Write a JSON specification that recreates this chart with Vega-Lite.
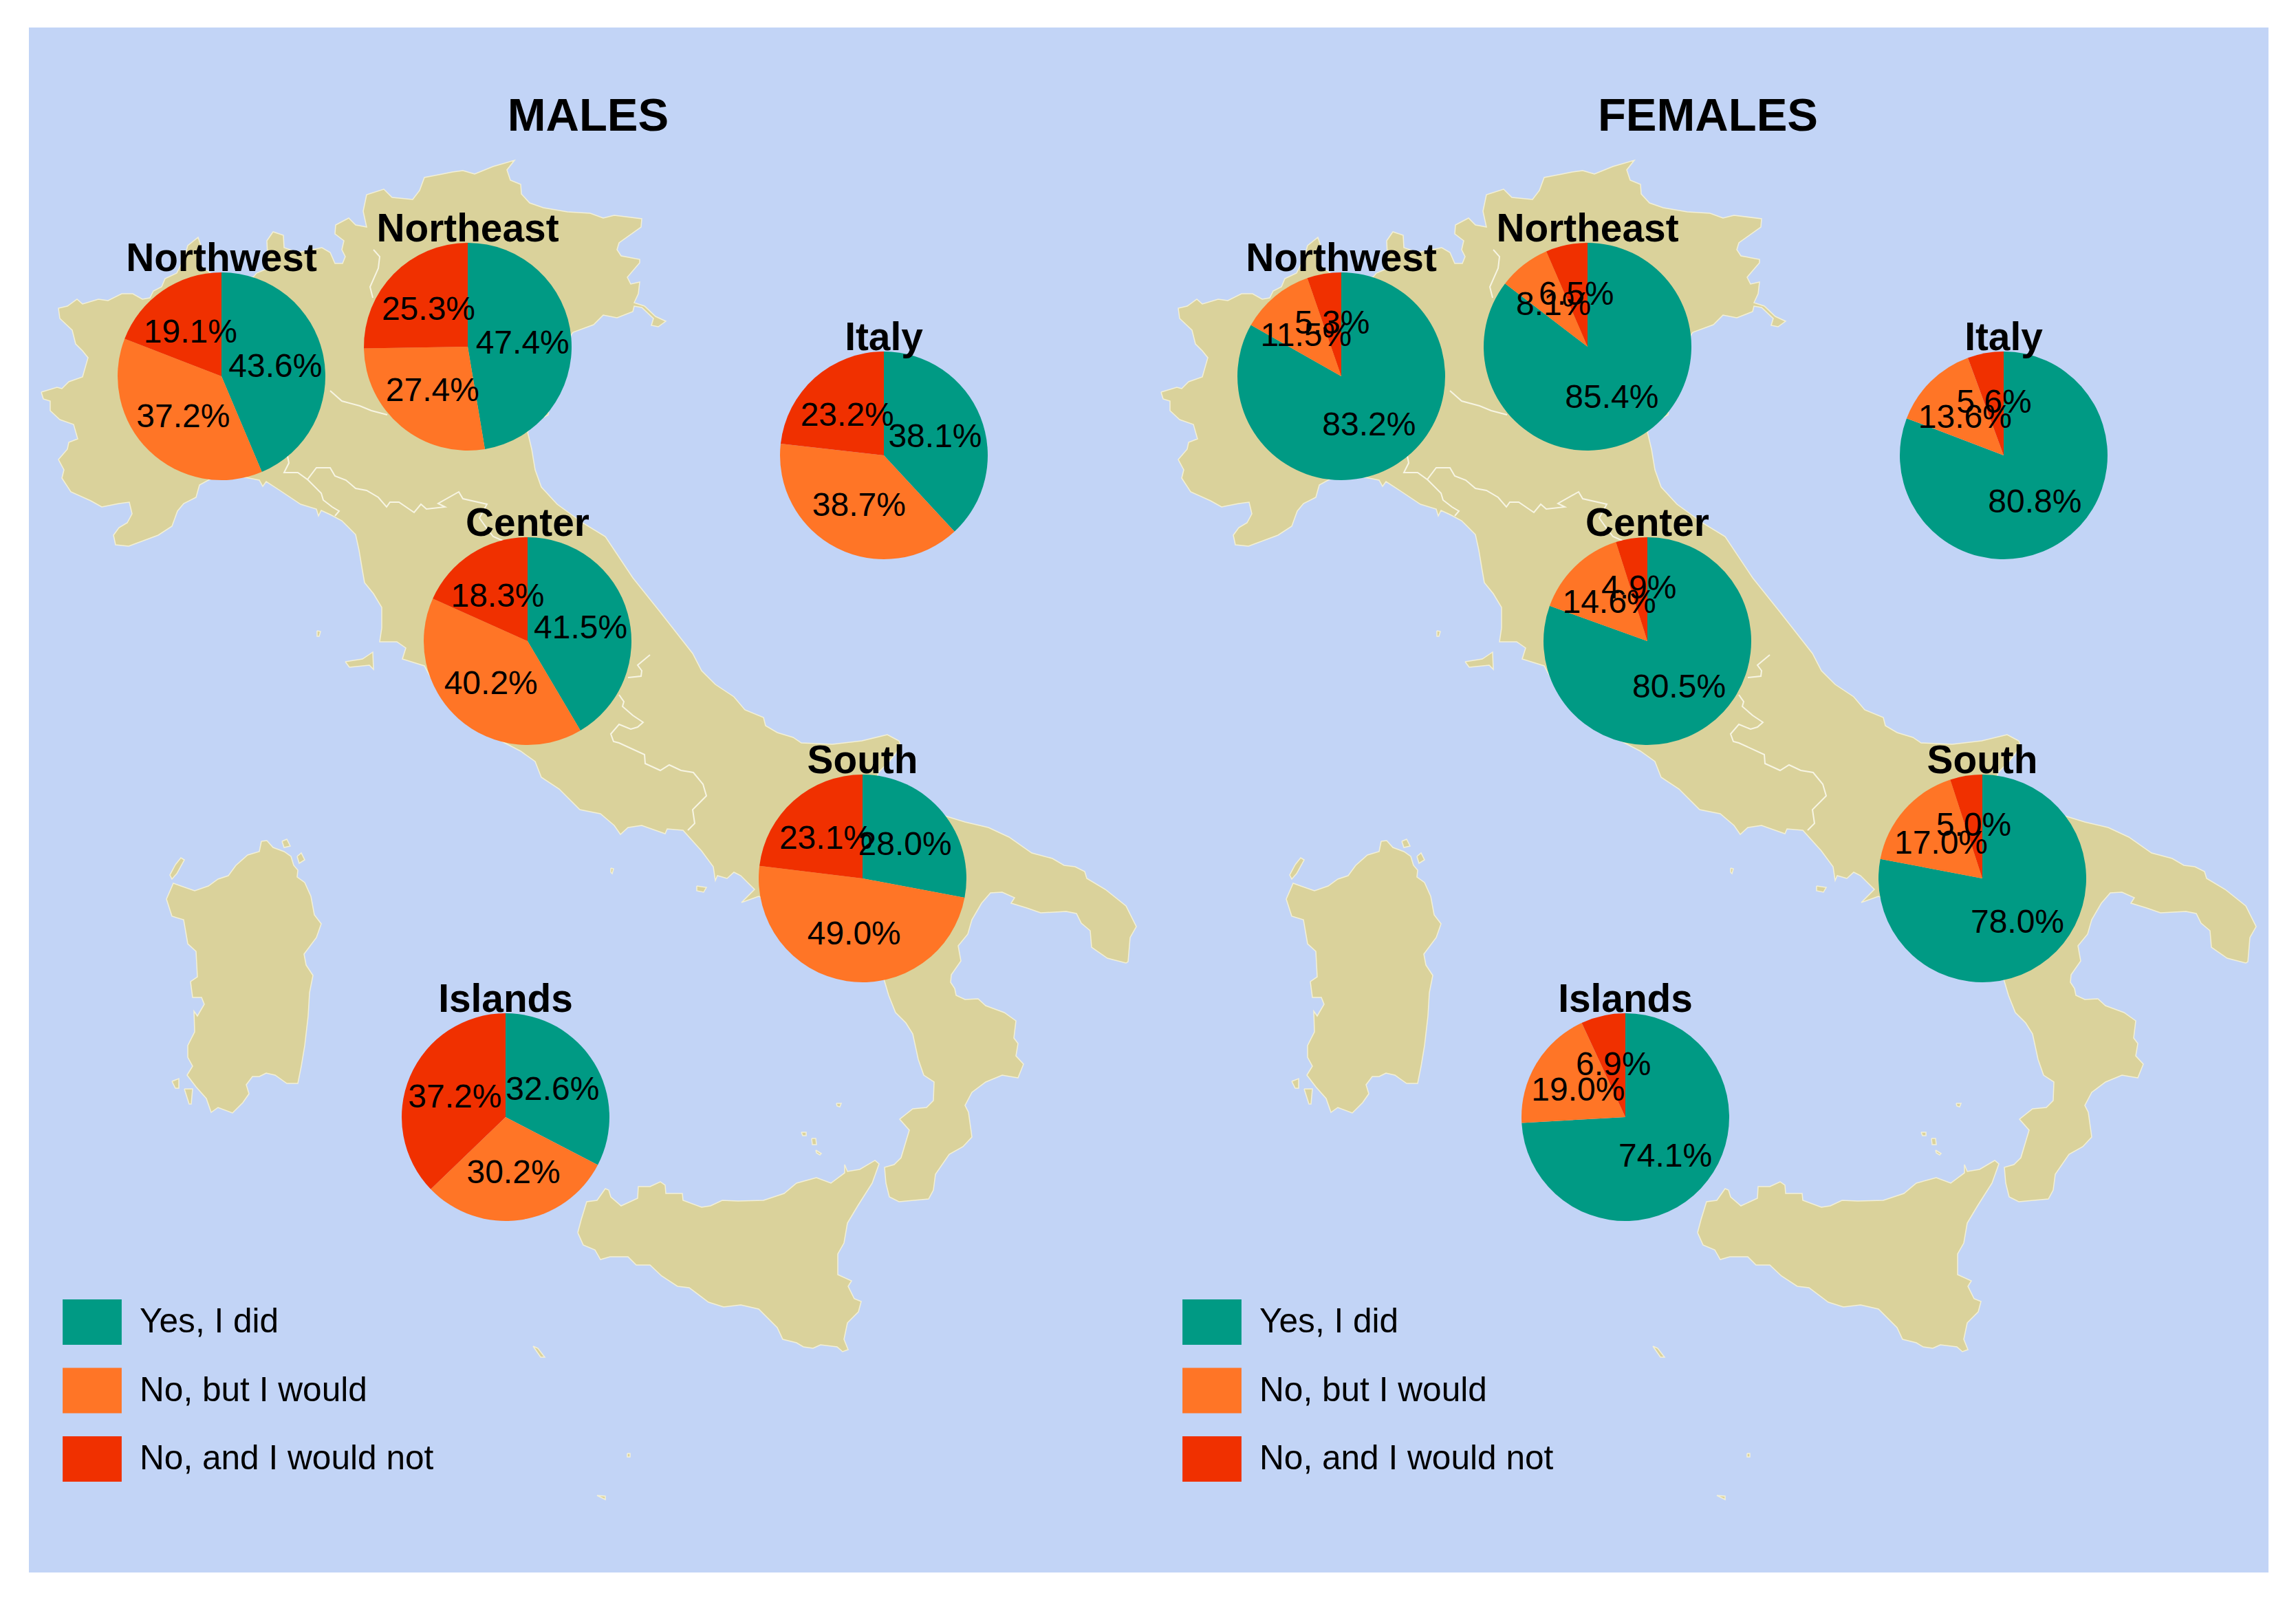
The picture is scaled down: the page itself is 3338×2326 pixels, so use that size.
{"$schema":"https://vega.github.io/schema/vega-lite/v6.json",
"background":"#ffffff","padding":{"left":42,"top":40,"right":40,"bottom":40},"autosize":{"type":"pad"},
"config":{"view":{"fill":"#C2D4F6","stroke":null,"continuousWidth":1628,"continuousHeight":2246},"font":"Liberation Sans"},
"datasets":{
"land":[
{"p":"m","x":60,"y":570},{"p":"m","x":83,"y":563},{"p":"m","x":90,"y":565},{"p":"m","x":100,"y":555},{"p":"m","x":120,"y":548},{"p":"m","x":128,"y":520},{"p":"m","x":120,"y":510},{"p":"m","x":110,"y":500},{"p":"m","x":105,"y":480},{"p":"m","x":87,"y":463},{"p":"m","x":85,"y":448},{"p":"m","x":98,"y":445},{"p":"m","x":112,"y":435},{"p":"m","x":120,"y":442},{"p":"m","x":143,"y":435},{"p":"m","x":157,"y":437},{"p":"m","x":177,"y":427},{"p":"m","x":193,"y":427},{"p":"m","x":207,"y":435},{"p":"m","x":218,"y":433},{"p":"m","x":223,"y":423},{"p":"m","x":235,"y":417},{"p":"m","x":240,"y":405},{"p":"m","x":257,"y":397},{"p":"m","x":268,"y":375},{"p":"m","x":273,"y":357},{"p":"m","x":288,"y":345},{"p":"m","x":292,"y":357},{"p":"m","x":290,"y":385},{"p":"m","x":310,"y":400},{"p":"m","x":368,"y":403},{"p":"m","x":373,"y":397},{"p":"m","x":390,"y":390},{"p":"m","x":388,"y":350},{"p":"m","x":397,"y":337},{"p":"m","x":412,"y":342},{"p":"m","x":413,"y":360},{"p":"m","x":433,"y":367},{"p":"m","x":468,"y":360},{"p":"m","x":480,"y":367},{"p":"m","x":487,"y":383},{"p":"m","x":498,"y":383},{"p":"m","x":502,"y":373},{"p":"m","x":497,"y":363},{"p":"m","x":500,"y":350},{"p":"m","x":487,"y":340},{"p":"m","x":488,"y":327},{"p":"m","x":507,"y":317},{"p":"m","x":517,"y":327},{"p":"m","x":533,"y":330},{"p":"m","x":528,"y":307},{"p":"m","x":533,"y":283},{"p":"m","x":558,"y":275},{"p":"m","x":570,"y":287},{"p":"m","x":600,"y":290},{"p":"m","x":610,"y":277},{"p":"m","x":617,"y":258},{"p":"m","x":643,"y":253},{"p":"m","x":658,"y":250},{"p":"m","x":673,"y":248},{"p":"m","x":690,"y":253},{"p":"m","x":717,"y":242},{"p":"m","x":748,"y":233},{"p":"m","x":737,"y":247},{"p":"m","x":742,"y":262},{"p":"m","x":757,"y":268},{"p":"m","x":758,"y":282},{"p":"m","x":770,"y":295},{"p":"m","x":790,"y":302},{"p":"m","x":825,"y":308},{"p":"m","x":858,"y":310},{"p":"m","x":877,"y":317},{"p":"m","x":893,"y":313},{"p":"m","x":933,"y":318},{"p":"m","x":932,"y":330},{"p":"m","x":900,"y":353},{"p":"m","x":897,"y":363},{"p":"m","x":903,"y":372},{"p":"m","x":930,"y":377},{"p":"m","x":930,"y":382},{"p":"m","x":912,"y":403},{"p":"m","x":917,"y":413},{"p":"m","x":930,"y":410},{"p":"m","x":928,"y":427},{"p":"m","x":922,"y":440},{"p":"m","x":937,"y":445},{"p":"m","x":953,"y":460},{"p":"m","x":968,"y":467},{"p":"m","x":957,"y":475},{"p":"m","x":947,"y":473},{"p":"m","x":950,"y":463},{"p":"m","x":933,"y":447},{"p":"m","x":922,"y":445},{"p":"m","x":920,"y":453},{"p":"m","x":897,"y":462},{"p":"m","x":877,"y":458},{"p":"m","x":863,"y":472},{"p":"m","x":833,"y":483},{"p":"m","x":815,"y":510},{"p":"m","x":800,"y":560},{"p":"m","x":797,"y":603},{"p":"m","x":775,"y":615},{"p":"m","x":767,"y":628},{"p":"m","x":773,"y":653},{"p":"m","x":778,"y":683},{"p":"m","x":787,"y":708},{"p":"m","x":810,"y":733},{"p":"m","x":847,"y":760},{"p":"m","x":880,"y":780},{"p":"m","x":920,"y":840},{"p":"m","x":960,"y":890},{"p":"m","x":1007,"y":950},{"p":"m","x":1020,"y":975},{"p":"m","x":1040,"y":995},{"p":"m","x":1067,"y":1013},{"p":"m","x":1083,"y":1032},{"p":"m","x":1110,"y":1043},{"p":"m","x":1113,"y":1055},{"p":"m","x":1130,"y":1065},{"p":"m","x":1153,"y":1072},{"p":"m","x":1165,"y":1080},{"p":"m","x":1210,"y":1082},{"p":"m","x":1253,"y":1077},{"p":"m","x":1290,"y":1068},{"p":"m","x":1307,"y":1077},{"p":"m","x":1310,"y":1085},{"p":"m","x":1293,"y":1107},{"p":"m","x":1277,"y":1123},{"p":"m","x":1275,"y":1130},{"p":"m","x":1320,"y":1170},{"p":"m","x":1380,"y":1188},{"p":"m","x":1403,"y":1195},{"p":"m","x":1437,"y":1203},{"p":"m","x":1467,"y":1217},{"p":"m","x":1500,"y":1240},{"p":"m","x":1530,"y":1248},{"p":"m","x":1547,"y":1258},{"p":"m","x":1563,"y":1260},{"p":"m","x":1577,"y":1267},{"p":"m","x":1580,"y":1277},{"p":"m","x":1607,"y":1293},{"p":"m","x":1637,"y":1317},{"p":"m","x":1652,"y":1347},{"p":"m","x":1643,"y":1363},{"p":"m","x":1640,"y":1398},{"p":"m","x":1637,"y":1400},{"p":"m","x":1610,"y":1393},{"p":"m","x":1587,"y":1377},{"p":"m","x":1585,"y":1353},{"p":"m","x":1572,"y":1342},{"p":"m","x":1565,"y":1328},{"p":"m","x":1550,"y":1325},{"p":"m","x":1513,"y":1327},{"p":"m","x":1493,"y":1320},{"p":"m","x":1470,"y":1313},{"p":"m","x":1475,"y":1305},{"p":"m","x":1457,"y":1297},{"p":"m","x":1440,"y":1298},{"p":"m","x":1427,"y":1313},{"p":"m","x":1413,"y":1337},{"p":"m","x":1407,"y":1358},{"p":"m","x":1393,"y":1375},{"p":"m","x":1397,"y":1397},{"p":"m","x":1383,"y":1417},{"p":"m","x":1382,"y":1428},{"p":"m","x":1388,"y":1437},{"p":"m","x":1390,"y":1447},{"p":"m","x":1403,"y":1453},{"p":"m","x":1422,"y":1452},{"p":"m","x":1433,"y":1462},{"p":"m","x":1460,"y":1472},{"p":"m","x":1477,"y":1484},{"p":"m","x":1474,"y":1509},{"p":"m","x":1480,"y":1517},{"p":"m","x":1477,"y":1535},{"p":"m","x":1488,"y":1547},{"p":"m","x":1480,"y":1567},{"p":"m","x":1457,"y":1563},{"p":"m","x":1433,"y":1573},{"p":"m","x":1413,"y":1588},{"p":"m","x":1403,"y":1607},{"p":"m","x":1408,"y":1617},{"p":"m","x":1413,"y":1653},{"p":"m","x":1400,"y":1667},{"p":"m","x":1380,"y":1678},{"p":"m","x":1360,"y":1707},{"p":"m","x":1357,"y":1730},{"p":"m","x":1350,"y":1743},{"p":"m","x":1307,"y":1747},{"p":"m","x":1293,"y":1740},{"p":"m","x":1288,"y":1720},{"p":"m","x":1286,"y":1697},{"p":"m","x":1300,"y":1693},{"p":"m","x":1310,"y":1683},{"p":"m","x":1322,"y":1643},{"p":"m","x":1308,"y":1627},{"p":"m","x":1327,"y":1612},{"p":"m","x":1347,"y":1610},{"p":"m","x":1357,"y":1600},{"p":"m","x":1358,"y":1573},{"p":"m","x":1343,"y":1563},{"p":"m","x":1335,"y":1540},{"p":"m","x":1327,"y":1503},{"p":"m","x":1317,"y":1487},{"p":"m","x":1302,"y":1472},{"p":"m","x":1292,"y":1447},{"p":"m","x":1285,"y":1423},{"p":"m","x":1270,"y":1400},{"p":"m","x":1200,"y":1340},{"p":"m","x":1103,"y":1303},{"p":"m","x":1078,"y":1312},{"p":"m","x":1097,"y":1293},{"p":"m","x":1077,"y":1273},{"p":"m","x":1067,"y":1268},{"p":"m","x":1057,"y":1277},{"p":"m","x":1043,"y":1273},{"p":"m","x":1040,"y":1280},{"p":"m","x":1037,"y":1260},{"p":"m","x":1020,"y":1237},{"p":"m","x":993,"y":1207},{"p":"m","x":970,"y":1205},{"p":"m","x":967,"y":1212},{"p":"m","x":933,"y":1200},{"p":"m","x":913,"y":1203},{"p":"m","x":902,"y":1213},{"p":"m","x":893,"y":1200},{"p":"m","x":873,"y":1183},{"p":"m","x":843,"y":1177},{"p":"m","x":813,"y":1147},{"p":"m","x":787,"y":1130},{"p":"m","x":778,"y":1107},{"p":"m","x":757,"y":1092},{"p":"m","x":730,"y":1078},{"p":"m","x":640,"y":1010},{"p":"m","x":617,"y":968},{"p":"m","x":585,"y":958},{"p":"m","x":590,"y":942},{"p":"m","x":577,"y":933},{"p":"m","x":557,"y":933},{"p":"m","x":552,"y":933},{"p":"m","x":555,"y":913},{"p":"m","x":555,"y":883},{"p":"m","x":543,"y":863},{"p":"m","x":530,"y":847},{"p":"m","x":527,"y":830},{"p":"m","x":522,"y":800},{"p":"m","x":517,"y":777},{"p":"m","x":497,"y":757},{"p":"m","x":480,"y":748},{"p":"m","x":467,"y":742},{"p":"m","x":463,"y":750},{"p":"m","x":460,"y":740},{"p":"m","x":437,"y":733},{"p":"m","x":407,"y":713},{"p":"m","x":387,"y":700},{"p":"m","x":382,"y":707},{"p":"m","x":377,"y":698},{"p":"m","x":347,"y":692},{"p":"m","x":310,"y":694},{"p":"m","x":290,"y":705},{"p":"m","x":285,"y":723},{"p":"m","x":267,"y":732},{"p":"m","x":258,"y":743},{"p":"m","x":250,"y":765},{"p":"m","x":230,"y":778},{"p":"m","x":187,"y":794},{"p":"m","x":168,"y":792},{"p":"m","x":165,"y":778},{"p":"m","x":173,"y":767},{"p":"m","x":185,"y":760},{"p":"m","x":192,"y":747},{"p":"m","x":188,"y":730},{"p":"m","x":173,"y":732},{"p":"m","x":148,"y":737},{"p":"m","x":132,"y":728},{"p":"m","x":103,"y":715},{"p":"m","x":90,"y":695},{"p":"m","x":93,"y":683},{"p":"m","x":85,"y":668},{"p":"m","x":98,"y":653},{"p":"m","x":100,"y":643},{"p":"m","x":113,"y":638},{"p":"m","x":107,"y":617},{"p":"m","x":87,"y":610},{"p":"m","x":73,"y":597},{"p":"m","x":73,"y":583},{"p":"m","x":63,"y":580},{"p":"m","x":60,"y":570},
{"p":"sar","x":380,"y":1223},{"p":"sar","x":388,"y":1222},{"p":"sar","x":397,"y":1232},{"p":"sar","x":413,"y":1238},{"p":"sar","x":423,"y":1245},{"p":"sar","x":427,"y":1258},{"p":"sar","x":433,"y":1265},{"p":"sar","x":432,"y":1275},{"p":"sar","x":443,"y":1283},{"p":"sar","x":452,"y":1303},{"p":"sar","x":457,"y":1330},{"p":"sar","x":467,"y":1343},{"p":"sar","x":460,"y":1363},{"p":"sar","x":442,"y":1387},{"p":"sar","x":445,"y":1403},{"p":"sar","x":455,"y":1418},{"p":"sar","x":450,"y":1443},{"p":"sar","x":448,"y":1477},{"p":"sar","x":443,"y":1520},{"p":"sar","x":438,"y":1550},{"p":"sar","x":433,"y":1575},{"p":"sar","x":417,"y":1575},{"p":"sar","x":400,"y":1563},{"p":"sar","x":387,"y":1560},{"p":"sar","x":377,"y":1565},{"p":"sar","x":367,"y":1565},{"p":"sar","x":358,"y":1577},{"p":"sar","x":362,"y":1590},{"p":"sar","x":353,"y":1603},{"p":"sar","x":338,"y":1618},{"p":"sar","x":317,"y":1610},{"p":"sar","x":307,"y":1617},{"p":"sar","x":300,"y":1597},{"p":"sar","x":285,"y":1580},{"p":"sar","x":272,"y":1563},{"p":"sar","x":280,"y":1550},{"p":"sar","x":273,"y":1537},{"p":"sar","x":273,"y":1520},{"p":"sar","x":283,"y":1500},{"p":"sar","x":282,"y":1470},{"p":"sar","x":287,"y":1477},{"p":"sar","x":297,"y":1460},{"p":"sar","x":293,"y":1450},{"p":"sar","x":280,"y":1450},{"p":"sar","x":277,"y":1427},{"p":"sar","x":287,"y":1420},{"p":"sar","x":285,"y":1383},{"p":"sar","x":273,"y":1372},{"p":"sar","x":267,"y":1337},{"p":"sar","x":250,"y":1332},{"p":"sar","x":242,"y":1307},{"p":"sar","x":252,"y":1284},{"p":"sar","x":263,"y":1288},{"p":"sar","x":283,"y":1295},{"p":"sar","x":303,"y":1288},{"p":"sar","x":317,"y":1278},{"p":"sar","x":332,"y":1273},{"p":"sar","x":343,"y":1258},{"p":"sar","x":360,"y":1243},{"p":"sar","x":377,"y":1238},{"p":"sar","x":380,"y":1223},
{"p":"asi","x":255,"y":1257},{"p":"asi","x":263,"y":1247},{"p":"asi","x":268,"y":1250},{"p":"asi","x":257,"y":1270},{"p":"asi","x":250,"y":1278},{"p":"asi","x":247,"y":1272},{"p":"asi","x":255,"y":1257},
{"p":"ant","x":268,"y":1583},{"p":"ant","x":280,"y":1583},{"p":"ant","x":278,"y":1605},{"p":"ant","x":275,"y":1605},{"p":"ant","x":268,"y":1583},
{"p":"pie","x":250,"y":1572},{"p":"pie","x":260,"y":1568},{"p":"pie","x":260,"y":1582},{"p":"pie","x":255,"y":1582},{"p":"pie","x":250,"y":1572},
{"p":"mad","x":410,"y":1223},{"p":"mad","x":417,"y":1220},{"p":"mad","x":422,"y":1230},{"p":"mad","x":413,"y":1232},{"p":"mad","x":410,"y":1223},
{"p":"mad2","x":432,"y":1245},{"p":"mad2","x":438,"y":1240},{"p":"mad2","x":443,"y":1250},{"p":"mad2","x":435,"y":1255},{"p":"mad2","x":432,"y":1245},
{"p":"sic","x":840,"y":1792},{"p":"sic","x":845,"y":1773},{"p":"sic","x":853,"y":1747},{"p":"sic","x":868,"y":1745},{"p":"sic","x":880,"y":1728},{"p":"sic","x":885,"y":1730},{"p":"sic","x":888,"y":1740},{"p":"sic","x":903,"y":1753},{"p":"sic","x":927,"y":1742},{"p":"sic","x":928,"y":1725},{"p":"sic","x":945,"y":1725},{"p":"sic","x":960,"y":1718},{"p":"sic","x":967,"y":1723},{"p":"sic","x":968,"y":1735},{"p":"sic","x":992,"y":1735},{"p":"sic","x":993,"y":1745},{"p":"sic","x":1020,"y":1755},{"p":"sic","x":1033,"y":1753},{"p":"sic","x":1050,"y":1745},{"p":"sic","x":1073,"y":1746},{"p":"sic","x":1110,"y":1745},{"p":"sic","x":1140,"y":1735},{"p":"sic","x":1158,"y":1720},{"p":"sic","x":1187,"y":1712},{"p":"sic","x":1208,"y":1720},{"p":"sic","x":1228,"y":1705},{"p":"sic","x":1228,"y":1693},{"p":"sic","x":1232,"y":1703},{"p":"sic","x":1250,"y":1700},{"p":"sic","x":1272,"y":1687},{"p":"sic","x":1278,"y":1692},{"p":"sic","x":1268,"y":1720},{"p":"sic","x":1247,"y":1753},{"p":"sic","x":1232,"y":1778},{"p":"sic","x":1227,"y":1807},{"p":"sic","x":1218,"y":1823},{"p":"sic","x":1218,"y":1853},{"p":"sic","x":1238,"y":1862},{"p":"sic","x":1233,"y":1870},{"p":"sic","x":1242,"y":1888},{"p":"sic","x":1252,"y":1892},{"p":"sic","x":1248,"y":1907},{"p":"sic","x":1232,"y":1923},{"p":"sic","x":1227,"y":1947},{"p":"sic","x":1233,"y":1962},{"p":"sic","x":1225,"y":1965},{"p":"sic","x":1217,"y":1958},{"p":"sic","x":1193,"y":1955},{"p":"sic","x":1182,"y":1960},{"p":"sic","x":1168,"y":1958},{"p":"sic","x":1158,"y":1952},{"p":"sic","x":1138,"y":1947},{"p":"sic","x":1130,"y":1930},{"p":"sic","x":1103,"y":1903},{"p":"sic","x":1077,"y":1897},{"p":"sic","x":1052,"y":1900},{"p":"sic","x":1030,"y":1893},{"p":"sic","x":1002,"y":1872},{"p":"sic","x":985,"y":1870},{"p":"sic","x":962,"y":1855},{"p":"sic","x":945,"y":1839},{"p":"sic","x":925,"y":1839},{"p":"sic","x":913,"y":1827},{"p":"sic","x":887,"y":1827},{"p":"sic","x":873,"y":1831},{"p":"sic","x":865,"y":1817},{"p":"sic","x":848,"y":1810},{"p":"sic","x":840,"y":1792},
{"p":"elba","x":502,"y":962},{"p":"elba","x":527,"y":958},{"p":"elba","x":542,"y":948},{"p":"elba","x":543,"y":973},{"p":"elba","x":537,"y":967},{"p":"elba","x":508,"y":970},{"p":"elba","x":502,"y":962},
{"p":"isc","x":1013,"y":1288},{"p":"isc","x":1027,"y":1290},{"p":"isc","x":1023,"y":1297},{"p":"isc","x":1013,"y":1295},{"p":"isc","x":1013,"y":1288},
{"p":"cap","x":461,"y":917},{"p":"cap","x":466,"y":918},{"p":"cap","x":464,"y":925},{"p":"cap","x":461,"y":925},{"p":"cap","x":461,"y":917},
{"p":"lip","x":1180,"y":1655},{"p":"lip","x":1186,"y":1655},{"p":"lip","x":1187,"y":1664},{"p":"lip","x":1181,"y":1664},{"p":"lip","x":1180,"y":1655},
{"p":"vul","x":1186,"y":1672},{"p":"vul","x":1194,"y":1677},{"p":"vul","x":1192,"y":1679},{"p":"vul","x":1187,"y":1676},{"p":"vul","x":1186,"y":1672},
{"p":"sal","x":1165,"y":1646},{"p":"sal","x":1172,"y":1646},{"p":"sal","x":1172,"y":1651},{"p":"sal","x":1167,"y":1651},{"p":"sal","x":1165,"y":1646},
{"p":"ust","x":1216,"y":1604},{"p":"ust","x":1223,"y":1604},{"p":"ust","x":1221,"y":1609},{"p":"ust","x":1217,"y":1608},{"p":"ust","x":1216,"y":1604},
{"p":"lam","x":775,"y":1957},{"p":"lam","x":782,"y":1960},{"p":"lam","x":792,"y":1973},{"p":"lam","x":786,"y":1973},{"p":"lam","x":775,"y":1957},
{"p":"lin","x":912,"y":2113},{"p":"lin","x":916,"y":2113},{"p":"lin","x":916,"y":2118},{"p":"lin","x":912,"y":2118},{"p":"lin","x":912,"y":2113},
{"p":"pan","x":868,"y":2174},{"p":"pan","x":880,"y":2175},{"p":"pan","x":880,"y":2180},{"p":"pan","x":874,"y":2177},{"p":"pan","x":868,"y":2174},
{"p":"pon","x":888,"y":1262},{"p":"pon","x":892,"y":1263},{"p":"pon","x":890,"y":1270},{"p":"pon","x":888,"y":1268},{"p":"pon","x":888,"y":1262}
],
"borders":[
{"b":"a","x":418,"y":663},{"b":"a","x":420,"y":673},{"b":"a","x":413,"y":687},{"b":"a","x":433,"y":687},{"b":"a","x":447,"y":697},{"b":"a","x":460,"y":680},{"b":"a","x":480,"y":680},{"b":"a","x":487,"y":692},{"b":"a","x":503,"y":698},{"b":"a","x":517,"y":710},{"b":"a","x":533,"y":713},{"b":"a","x":550,"y":723},{"b":"a","x":562,"y":737},{"b":"a","x":567,"y":730},{"b":"a","x":580,"y":730},{"b":"a","x":602,"y":745},{"b":"a","x":612,"y":733},{"b":"a","x":620,"y":740},{"b":"a","x":647,"y":737},{"b":"a","x":637,"y":732},{"b":"a","x":667,"y":715},{"b":"a","x":673,"y":725},{"b":"a","x":708,"y":733},{"b":"a","x":697,"y":753},{"b":"a","x":707,"y":767},{"b":"a","x":717,"y":780},{"b":"a","x":733,"y":787},
{"b":"a2","x":447,"y":697},{"b":"a2","x":467,"y":717},{"b":"a2","x":470,"y":727},{"b":"a2","x":483,"y":737},{"b":"a2","x":493,"y":743},{"b":"a2","x":487,"y":750},
{"b":"b","x":945,"y":952},{"b":"b","x":927,"y":967},{"b":"b","x":933,"y":975},{"b":"b","x":932,"y":983},{"b":"b","x":913,"y":985},
{"b":"c","x":900,"y":1010},{"b":"c","x":907,"y":1020},{"b":"c","x":905,"y":1027},{"b":"c","x":920,"y":1040},{"b":"c","x":935,"y":1050},{"b":"c","x":927,"y":1057},{"b":"c","x":917,"y":1060},{"b":"c","x":900,"y":1053},{"b":"c","x":888,"y":1067},{"b":"c","x":892,"y":1078},{"b":"c","x":900,"y":1080},{"b":"c","x":937,"y":1097},{"b":"c","x":938,"y":1110},{"b":"c","x":960,"y":1120},{"b":"c","x":973,"y":1112},{"b":"c","x":990,"y":1120},{"b":"c","x":1008,"y":1123},{"b":"c","x":1022,"y":1140},{"b":"c","x":1027,"y":1157},{"b":"c","x":1007,"y":1177},{"b":"c","x":1010,"y":1197},{"b":"c","x":1000,"y":1207},
{"b":"d","x":480,"y":568},{"b":"d","x":497,"y":583},{"b":"d","x":523,"y":590},{"b":"d","x":540,"y":597},{"b":"d","x":563,"y":603},
{"b":"e","x":543,"y":363},{"b":"e","x":552,"y":373},{"b":"e","x":550,"y":390},{"b":"e","x":538,"y":417},{"b":"e","x":542,"y":433}
],
"pies":[
{"panel":"MALES","region":"Northwest","answer":"Yes, I did","value":43.6,"mx":322,"my":547},
{"panel":"MALES","region":"Northwest","answer":"No, but I would","value":37.2,"mx":322,"my":547},
{"panel":"MALES","region":"Northwest","answer":"No, and I would not","value":19.1,"mx":322,"my":547},
{"panel":"MALES","region":"Northeast","answer":"Yes, I did","value":47.4,"mx":680,"my":504},
{"panel":"MALES","region":"Northeast","answer":"No, but I would","value":27.4,"mx":680,"my":504},
{"panel":"MALES","region":"Northeast","answer":"No, and I would not","value":25.3,"mx":680,"my":504},
{"panel":"MALES","region":"Italy","answer":"Yes, I did","value":38.1,"mx":1285,"my":662},
{"panel":"MALES","region":"Italy","answer":"No, but I would","value":38.7,"mx":1285,"my":662},
{"panel":"MALES","region":"Italy","answer":"No, and I would not","value":23.2,"mx":1285,"my":662},
{"panel":"MALES","region":"Center","answer":"Yes, I did","value":41.5,"mx":767,"my":932},
{"panel":"MALES","region":"Center","answer":"No, but I would","value":40.2,"mx":767,"my":932},
{"panel":"MALES","region":"Center","answer":"No, and I would not","value":18.3,"mx":767,"my":932},
{"panel":"MALES","region":"South","answer":"Yes, I did","value":28.0,"mx":1254,"my":1277},
{"panel":"MALES","region":"South","answer":"No, but I would","value":49.0,"mx":1254,"my":1277},
{"panel":"MALES","region":"South","answer":"No, and I would not","value":23.1,"mx":1254,"my":1277},
{"panel":"MALES","region":"Islands","answer":"Yes, I did","value":32.6,"mx":735,"my":1624},
{"panel":"MALES","region":"Islands","answer":"No, but I would","value":30.2,"mx":735,"my":1624},
{"panel":"MALES","region":"Islands","answer":"No, and I would not","value":37.2,"mx":735,"my":1624},
{"panel":"FEMALES","region":"Northwest","answer":"Yes, I did","value":83.2,"mx":322,"my":547},
{"panel":"FEMALES","region":"Northwest","answer":"No, but I would","value":11.5,"mx":322,"my":547},
{"panel":"FEMALES","region":"Northwest","answer":"No, and I would not","value":5.3,"mx":322,"my":547},
{"panel":"FEMALES","region":"Northeast","answer":"Yes, I did","value":85.4,"mx":680,"my":504},
{"panel":"FEMALES","region":"Northeast","answer":"No, but I would","value":8.1,"mx":680,"my":504},
{"panel":"FEMALES","region":"Northeast","answer":"No, and I would not","value":6.5,"mx":680,"my":504},
{"panel":"FEMALES","region":"Italy","answer":"Yes, I did","value":80.8,"mx":1285,"my":662},
{"panel":"FEMALES","region":"Italy","answer":"No, but I would","value":13.6,"mx":1285,"my":662},
{"panel":"FEMALES","region":"Italy","answer":"No, and I would not","value":5.6,"mx":1285,"my":662},
{"panel":"FEMALES","region":"Center","answer":"Yes, I did","value":80.5,"mx":767,"my":932},
{"panel":"FEMALES","region":"Center","answer":"No, but I would","value":14.6,"mx":767,"my":932},
{"panel":"FEMALES","region":"Center","answer":"No, and I would not","value":4.9,"mx":767,"my":932},
{"panel":"FEMALES","region":"South","answer":"Yes, I did","value":78.0,"mx":1254,"my":1277},
{"panel":"FEMALES","region":"South","answer":"No, but I would","value":17.0,"mx":1254,"my":1277},
{"panel":"FEMALES","region":"South","answer":"No, and I would not","value":5.0,"mx":1254,"my":1277},
{"panel":"FEMALES","region":"Islands","answer":"Yes, I did","value":74.1,"mx":735,"my":1624},
{"panel":"FEMALES","region":"Islands","answer":"No, but I would","value":19.0,"mx":735,"my":1624},
{"panel":"FEMALES","region":"Islands","answer":"No, and I would not","value":6.9,"mx":735,"my":1624}
]},
"data":{"name":"pies"},
"transform":[
{"stack":"value","groupby":["panel","region"],"offset":"normalize","as":["s0","s1"]},
{"calculate":"(datum.s0+datum.s1)/2","as":"mid"},
{"calculate":"format(datum.value,'.1f')+'%'","as":"label"}
],
"facet":{"column":{"field":"panel","type":"nominal","sort":["MALES","FEMALES"],"header":null}},
"spacing":0,
"resolve":{"scale":{"color":"independent"}},
"spec":{"width":1628,"height":2246,
"layer":[
{"data":{"name":"land"},"transform":[{"window":[{"op":"row_number","as":"seq"}]}],"mark":{"type":"line","fill":"#DAD29B","stroke":"#F3F0D6","strokeWidth":1.5,"interpolate":"linear"},
"encoding":{"x":{"field":"x","type":"quantitative","scale":{"domain":[42,1670],"nice":false,"zero":false},"axis":null},"y":{"field":"y","type":"quantitative","scale":{"domain":[40,2286],"reverse":true,"nice":false,"zero":false},"axis":null},"detail":{"field":"p"},"order":{"field":"seq","type":"quantitative"}}},
{"data":{"name":"borders"},"transform":[{"window":[{"op":"row_number","as":"seq"}]}],"mark":{"type":"line","stroke":"#F7F5E4","strokeWidth":2,"interpolate":"linear"},
"encoding":{"x":{"field":"x","type":"quantitative"},"y":{"field":"y","type":"quantitative"},"detail":{"field":"b"},"order":{"field":"seq","type":"quantitative"}}},
{"mark":{"type":"arc","outerRadius":151},
"encoding":{"x":{"field":"mx","type":"quantitative"},"y":{"field":"my","type":"quantitative"},
"theta":{"field":"s0","type":"quantitative","scale":{"domain":[0,1],"range":[0,6.283185307]}},"theta2":{"field":"s1"},
"color":{"field":"answer","type":"nominal","scale":{"domain":["Yes, I did","No, but I would","No, and I would not"],"range":["#009A84","#FF7526","#F03000"]},
"legend":{"title":null,"orient":"none","legendX":59,"legendY":1849,"padding":0,"symbolType":"M-1.3,-1H1.3V1H-1.3Z","symbolSize":4356,"symbolStrokeWidth":0,"symbolOpacity":1,"labelFont":"Liberation Sans","labelFontSize":49.6,"labelColor":"#000000","labelOffset":36,"rowPadding":33.5,"labelLimit":800}}}},
{"mark":{"type":"text","radius":80,"font":"Liberation Sans","fontSize":48,"color":"#000000","align":"center","baseline":"middle","dy":3},
"encoding":{"x":{"field":"mx","type":"quantitative"},"y":{"field":"my","type":"quantitative"},
"theta":{"field":"mid","type":"quantitative","scale":{"domain":[0,1],"range":[0,6.283185307]}},"text":{"field":"label"}}},
{"transform":[{"filter":"datum.answer=='Yes, I did'"}],
"mark":{"type":"text","font":"Liberation Sans","fontSize":56.8,"fontWeight":"bold","color":"#000000","align":"center","baseline":"alphabetic","dy":-153},
"encoding":{"x":{"field":"mx","type":"quantitative"},"y":{"field":"my","type":"quantitative"},"text":{"field":"region"}}},
{"transform":[{"filter":"datum.answer=='Yes, I did' && datum.region=='Italy'"}],
"mark":{"type":"text","font":"Liberation Sans","fontSize":67,"fontWeight":"bold","color":"#000000","align":"center","baseline":"alphabetic"},
"encoding":{"x":{"datum":855},"y":{"datum":190},"text":{"field":"panel"}}}
]}}
